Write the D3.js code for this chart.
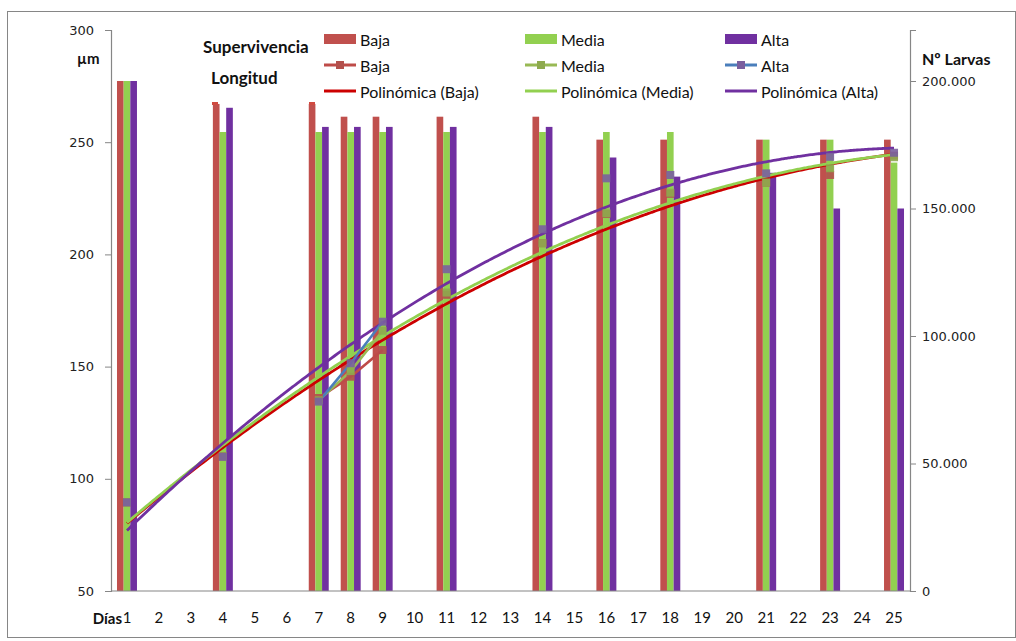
<!DOCTYPE html>
<html>
<head>
<meta charset="utf-8">
<script src="https://cdn.jsdelivr.net/npm/d3@7"></script>
<style>
  html, body { margin: 0; padding: 0; background: #ffffff; }
  svg { display: block; }
</style>
</head>
<body>
<svg id="chart" width="1016" height="641"></svg>
<script>
// ---- data ----
const days = d3.range(1, 26);                       // x categories (Días 1..25)
const sampleDays = [1, 4, 7, 8, 9, 11, 14, 16, 18, 21, 23, 25];

// Supervivencia: Nº Larvas (right axis, bars)
const larvasBaja  = [200000, 191000, 191000, 186000, 186000, 186000, 186000, 177000, 177000, 177000, 177000, 177000];
const larvasMedia = [200000, 180000, 180000, 180000, 180000, 180000, 180000, 180000, 180000, 177000, 177000, 168000];
const larvasAlta  = [200000, 189500, 182000, 182000, 182000, 182000, 182000, 170000, 162500, 164000, 150000, 150000];

// Longitud: µm (left axis, lines with markers)
const longBaja  = [89.5, 110, 136,   145.5, 157.4, 182,   205,   218,   227,   232,   235.4, 244];
const longMedia = [89.5, 110, 135,   148,   166,   183,   205,   218.3, 227.5, 232,   238.4, 243.3];
const longAlta  = [89.5, 109.8, 134.4, 151.5, 170, 193.4, 211.2, 233.9, 235.4, 236.1, 243.5, 245.3];

const leftTicks  = [50, 100, 150, 200, 250, 300];
const rightTicks = [0, 50000, 100000, 150000, 200000];
const seriesNames = ["Baja", "Media", "Alta"];

// ---- styling ----
const barColors   = { Baja: "#C0504D", Media: "#92D050", Alta: "#7030A0" };
const lineColors  = { Baja: "#BE4B48", Media: "#98B954", Alta: "#4A7EBB" };
const markColors  = { Baja: "#B3504C", Media: "#8EAA4E", Alta: "#7A5F9E" };
const trendColors = { Baja: "#CC0000", Media: "#92D050", Alta: "#7030A0" };
const axisGrey = "#868686";
const textFont = "Lato, 'Open Sans', sans-serif";
const numFont  = "'DejaVu Sans', Verdana, sans-serif";

const svg = d3.select("#chart");
svg.append("rect").attr("width", 1016).attr("height", 641).attr("fill", "#fff");
svg.append("rect")
  .attr("x", 7.5).attr("y", 11.5).attr("width", 1008).attr("height", 626)
  .attr("fill", "none").attr("stroke", axisGrey).attr("stroke-width", 1);

const plot = { left: 111, right: 910, top: 30, bottom: 591 };

const x = d3.scaleBand().domain(days).range([plot.left, plot.right])
  .paddingInner(0.375).paddingOuter(0.1875);
const xSub = d3.scaleBand().domain(seriesNames).range([0, x.bandwidth()]);
const xc = d => x(d) + x.bandwidth() / 2;
const yL = d3.scaleLinear().domain([50, 300]).range([plot.bottom, plot.top]);
const yR = d3.scaleLinear().domain([0, 220000]).range([plot.bottom, plot.top]);

const esFmt = d3.formatLocale({ decimal: ",", thousands: ".", grouping: [3], currency: ["", "€"] }).format(",");

// ---- bars (Supervivencia) ----
const larvas = { Baja: larvasBaja, Media: larvasMedia, Alta: larvasAlta };
const barRows = [];
sampleDays.forEach((d, i) => seriesNames.forEach(s => barRows.push({ day: d, s, v: larvas[s][i] })));
svg.append("g").selectAll("rect").data(barRows).join("rect")
  .attr("x", r => x(r.day) + xSub(r.s))
  .attr("width", xSub.bandwidth())
  .attr("y", r => yR(r.v))
  .attr("height", r => yR(0) - yR(r.v))
  .attr("fill", r => barColors[r.s]);

// ---- axes ----
const axL = svg.append("g").attr("transform", `translate(${plot.left},0)`)
  .call(d3.axisLeft(yL).tickValues(leftTicks).tickSize(6).tickPadding(11).tickFormat(d3.format("d")));
const axR = svg.append("g").attr("transform", `translate(${plot.right},0)`)
  .call(d3.axisRight(yR).tickValues(rightTicks).tickSize(6).tickPadding(6).tickFormat(esFmt));
const axB = svg.append("g").attr("transform", `translate(0,${plot.bottom})`)
  .call(d3.axisBottom(x).tickSize(0).tickPadding(21).tickFormat(d3.format("d")));

[axL, axR, axB].forEach(g => {
  g.select(".domain").attr("stroke", axisGrey).attr("stroke-width", 1.2);
  g.selectAll(".tick line").attr("stroke", axisGrey);
});
[axL, axR].forEach(g => g.selectAll(".tick text")
  .attr("font-family", numFont).attr("font-size", 13).attr("fill", "#222"));
axB.select(".domain").attr("d", `M${plot.left},0H${plot.right}`);
axB.selectAll(".tick text").attr("font-family", textFont).attr("font-size", 15).attr("fill", "#111");

// ---- polynomial (order 2) least-squares trend ----
function polyfit2(xs, ys) {
  const S = [0, 0, 0, 0, 0], T = [0, 0, 0];
  xs.forEach((xv, i) => {
    for (let k = 0; k < 5; k++) S[k] += Math.pow(xv, k);
    for (let k = 0; k < 3; k++) T[k] += ys[i] * Math.pow(xv, k);
  });
  const A = [[S[0], S[1], S[2], T[0]], [S[1], S[2], S[3], T[1]], [S[2], S[3], S[4], T[2]]];
  for (let c = 0; c < 3; c++) {
    let p = c;
    for (let r = c + 1; r < 3; r++) if (Math.abs(A[r][c]) > Math.abs(A[p][c])) p = r;
    [A[c], A[p]] = [A[p], A[c]];
    for (let r = 0; r < 3; r++) if (r !== c) {
      const f = A[r][c] / A[c][c];
      for (let k = c; k < 4; k++) A[r][k] -= f * A[c][k];
    }
  }
  return [A[0][3] / A[0][0], A[1][3] / A[1][1], A[2][3] / A[2][2]];
}

// x position on the category axis for a fractional category number
const xPos = t => xc(1) + (t - 1) * x.step();

const lengths = { Baja: longBaja, Media: longMedia, Alta: longAlta };
const trendG = svg.append("g");
const lineG = svg.append("g");
const markG = svg.append("g");

seriesNames.forEach(s => {
  const vals = lengths[s];
  // data line: only joins consecutive days that both have a value
  const full = days.map(d => { const i = sampleDays.indexOf(d); return { d, v: i < 0 ? null : vals[i] }; });
  lineG.append("path").datum(full)
    .attr("fill", "none").attr("stroke", lineColors[s]).attr("stroke-width", 2.6)
    .attr("stroke-linejoin", "round")
    .attr("d", d3.line().defined(p => p.v !== null).x(p => xc(p.d)).y(p => yL(p.v)));

  const [a, b, c] = polyfit2(sampleDays, vals);
  const fx = d3.range(1, 25.001, 0.1);
  trendG.append("path").datum(fx)
    .attr("fill", "none").attr("stroke", trendColors[s]).attr("stroke-width", 2.8)
    .attr("d", d3.line().x(t => xPos(t)).y(t => yL(a + b * t + c * t * t)).curve(d3.curveBasis));

  markG.selectAll(null).data(sampleDays.map((d, i) => ({ d, v: vals[i] }))).join("rect")
    .attr("x", p => xc(p.d) - 4).attr("y", p => yL(p.v) - 4)
    .attr("width", 8).attr("height", 8)
    .attr("fill", markColors[s]).attr("fill-opacity", 0.9);
});

// ---- titles ----
const bold = (txt, xx, yy, size, anchor) => svg.append("text")
  .attr("x", xx).attr("y", yy).attr("font-family", textFont).attr("font-weight", 700)
  .attr("font-size", size).attr("fill", "#111").attr("dominant-baseline", "central")
  .attr("text-anchor", anchor || "start").text(txt);
bold("Supervivencia", 203, 46, 17);
bold("Longitud", 211, 77, 17);
bold("µm", 77, 58, 15);
bold("Nº Larvas", 922, 58, 16);
bold("Días", 122, 618, 15, "end");

svg.append("rect").attr("x", 212).attr("y", 102).attr("width", 6).attr("height", 3).attr("fill", "#D04A40");
svg.append("rect").attr("x", 309).attr("y", 102).attr("width", 6).attr("height", 3).attr("fill", "#D04A40");

// ---- legend ----
const legCols = [324, 525, 725];
const legRows = [39, 65, 91];
const leg = svg.append("g");
seriesNames.forEach((s, i) => {
  const x0 = legCols[i];
  // bar entry
  leg.append("rect").attr("x", x0).attr("y", legRows[0] - 5).attr("width", 32).attr("height", 10).attr("fill", barColors[s]);
  // line + marker entry
  leg.append("line").attr("x1", x0).attr("x2", x0 + 32).attr("y1", legRows[1]).attr("y2", legRows[1])
    .attr("stroke", lineColors[s]).attr("stroke-width", 3);
  leg.append("rect").attr("x", x0 + 12).attr("y", legRows[1] - 4).attr("width", 8).attr("height", 8).attr("fill", markColors[s]);
  // trend entry
  leg.append("line").attr("x1", x0).attr("x2", x0 + 32).attr("y1", legRows[2]).attr("y2", legRows[2])
    .attr("stroke", trendColors[s]).attr("stroke-width", 3);
  const labels = [s, s, `Polinómica (${s})`];
  labels.forEach((t, r) => leg.append("text")
    .attr("x", x0 + 36).attr("y", legRows[r]).attr("dominant-baseline", "central")
    .attr("font-family", textFont).attr("font-size", 16).attr("fill", "#111").text(t));
});
</script>
</body>
</html>
